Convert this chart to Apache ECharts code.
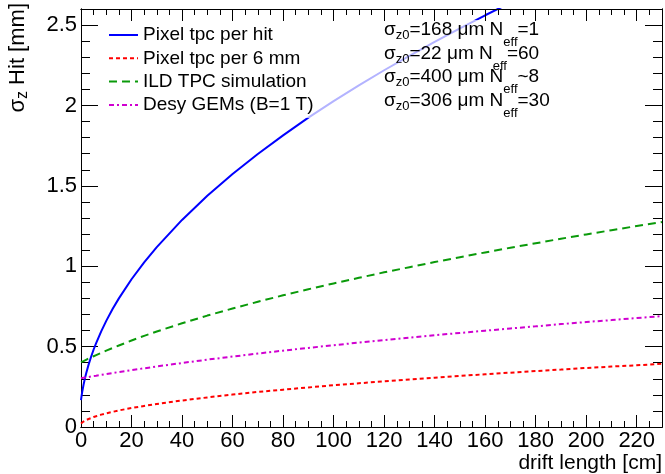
<!DOCTYPE html>
<html><head><meta charset="utf-8">
<script src="https://cdn.jsdelivr.net/npm/echarts@6/dist/echarts.min.js"></script>
<style>html,body{margin:0;padding:0;background:#fff}#c{width:665px;height:474px}</style>
</head><body><div id="c"></div>
<script>
// ---- data ----
const driftLength = [0,0.25,0.5,1,1.5,2,3,4,5,6,8,10,12.5,15,20,25,30,40,50,60,70,80,90,100,110,120,130,140,150,160,170,180,190,200,210,220,230];
const pixelPerHit = [0.167,0.195,0.220,0.262,0.299,0.331,0.388,0.437,0.482,0.522,0.595,0.660,0.734,0.800,0.919,1.024,1.119,1.288,1.438,1.574,1.698,1.814,1.924,2.027,2.125,2.219,2.309,2.396,2.480,2.561,2.639,null,null,null,null,null,null];
const pixelPer6mm = [0.022,0.026,0.029,0.034,0.039,0.043,0.050,0.056,0.062,0.067,0.077,0.085,0.094,0.103,0.118,0.131,0.143,0.165,0.184,0.202,0.218,0.232,0.246,0.260,0.272,0.284,0.296,0.307,0.318,0.328,0.338,0.348,0.357,0.367,0.376,0.384,0.393];
const ildTpcSim = [0.403,0.405,0.406,0.410,0.414,0.418,0.426,0.433,0.440,0.447,0.461,0.475,0.491,0.507,0.538,0.567,0.594,0.645,0.693,0.737,0.779,0.819,0.857,0.893,0.928,0.962,0.994,1.026,1.056,1.086,1.115,1.143,1.171,1.198,1.224,1.250,1.275];
const desyGems = [0.303,0.304,0.304,0.306,0.307,0.308,0.311,0.314,0.317,0.319,0.324,0.329,0.336,0.342,0.354,0.365,0.377,0.398,0.419,0.438,0.457,0.475,0.492,0.509,0.525,0.541,0.556,0.571,0.585,0.599,0.613,0.626,0.640,0.653,0.665,0.678,0.690];
const seriesNames = ['Pixel tpc per hit','Pixel tpc per 6 mm','ILD TPC simulation','Desy GEMs (B=1 T)'];
const xTickLabels = [0,20,40,60,80,100,120,140,160,180,200,220];
const yTickLabels = [0,0.5,1,1.5,2,2.5];
const sigmaZ0 = ['168','22','400','306'];
const nEffText = ['=1','=60','~8','=30'];

// ---- styles ----
const FONT = "'Liberation Sans', Arial, Helvetica, sans-serif";
const colors = ['#0000ff','#ff0000','#0a9a0a','#d000d0'];
const dashes = ['solid',[4,3],[8,5],[5,3,2,3]];
const values = [pixelPerHit, pixelPer6mm, ildTpcSim, desyGems];

const chart = echarts.init(document.getElementById('c'), null, {renderer:'canvas'});

function xAx(pos, interval, tickLen, labels, z){
  return {type:'value', position:pos, min:0, max:230, interval:interval, z:z,
    axisLine:{show:true, onZero:false, lineStyle:{color:'#000', width:1}},
    axisTick:{show:true, inside:true, length:tickLen, lineStyle:{color:'#000', width:1}},
    axisLabel:{show:labels, margin:3, color:'#000', fontSize:22, fontFamily:FONT,
      formatter: v => xTickLabels.includes(v) ? String(v) : ''},
    splitLine:{show:false}};
}
function yAx(pos, interval, tickLen, labels, z){
  return {type:'value', position:pos, min:0, max:2.6, interval:interval, z:z,
    axisLine:{show:true, onZero:false, lineStyle:{color:'#000', width:1}},
    axisTick:{show:true, inside:true, length:tickLen, lineStyle:{color:'#000', width:1}},
    axisLabel:{show:labels, margin:4, color:'#000', fontSize:22, fontFamily:FONT,
      formatter: v => yTickLabels.some(t => Math.abs(t - v) < 1e-9) ? String(Math.round(v*10)/10) : ''},
    splitLine:{show:false}};
}

const textLines = sigmaZ0.map((s, i) => ({
  type:'text', x:384, y:[30,54,77,101][i], z:50,
  style:{
    text:'{m|σ}{s|z0}{m|=' + s + ' μm N}{e|eff}{m|' + nEffText[i] + '}',
    align:'left', verticalAlign:'middle', textAlign:'left', textVerticalAlign:'middle',
    fill:'#000',
    rich:{
      m:{fontSize:19, fontFamily:FONT, fill:'#000'},
      s:{fontSize:13, fontFamily:FONT, fill:'#000', padding:[10,0,0,0]},
      e:{fontSize:13, fontFamily:FONT, fill:'#000', padding:[24,0,0,0]}
    }
  }
}));

chart.setOption({
  animation:false,
  backgroundColor:'#fff',
  grid:{left:81, right:2, top:9, bottom:47, containLabel:false},
  xAxis:[xAx('bottom',20,12,true,1), xAx('bottom',5,6,false,1), xAx('top',20,12,false,6), xAx('top',5,6,false,6)],
  yAxis:[yAx('left',0.5,17,true,1), yAx('left',0.1,9,false,1), yAx('right',0.5,17,false,6), yAx('right',0.1,9,false,6)],
  legend:{
    orient:'vertical', left:103, top:20.5, padding:5, itemWidth:29, itemHeight:14, itemGap:4.3,
    textStyle:{fontSize:19, fontFamily:FONT, color:'#000', lineHeight:19},
    itemStyle:{opacity:0},
    selectedMode:false,
    data:seriesNames
  },
  series: seriesNames.map((n, i) => ({
    type:'line', name:n, xAxisIndex:0, yAxisIndex:0,
    data: driftLength.map((x, j) => [x, values[i][j]]),
    symbol:'none', showSymbol:false, clip:true, z:2,
    lineStyle:{color:colors[i], width:2, type:dashes[i]},
    itemStyle:{color:colors[i]}
  })),
  graphic:[
    {type:'rect', z:3, shape:{x:100, y:20, width:460, height:98}, style:{fill:'rgba(255,255,255,0.7)'}},
    ...textLines,
    {type:'text', x:662, y:463, z:50, style:{text:'drift length [cm]', fill:'#000', font:'21px ' + FONT,
      align:'right', verticalAlign:'middle', textAlign:'right', textVerticalAlign:'middle'}},
    {type:'text', x:18, y:3, rotation:Math.PI/2, z:50, style:{
      text:'{m|σ}{s|z}{m| Hit [mm]}', fill:'#000',
      align:'right', verticalAlign:'middle', textAlign:'right', textVerticalAlign:'middle',
      rich:{ m:{fontSize:22, fontFamily:FONT, fill:'#000'}, s:{fontSize:16, fontFamily:FONT, fill:'#000', padding:[10,0,0,0]} }
    }}
  ]
});
</script></body></html>
